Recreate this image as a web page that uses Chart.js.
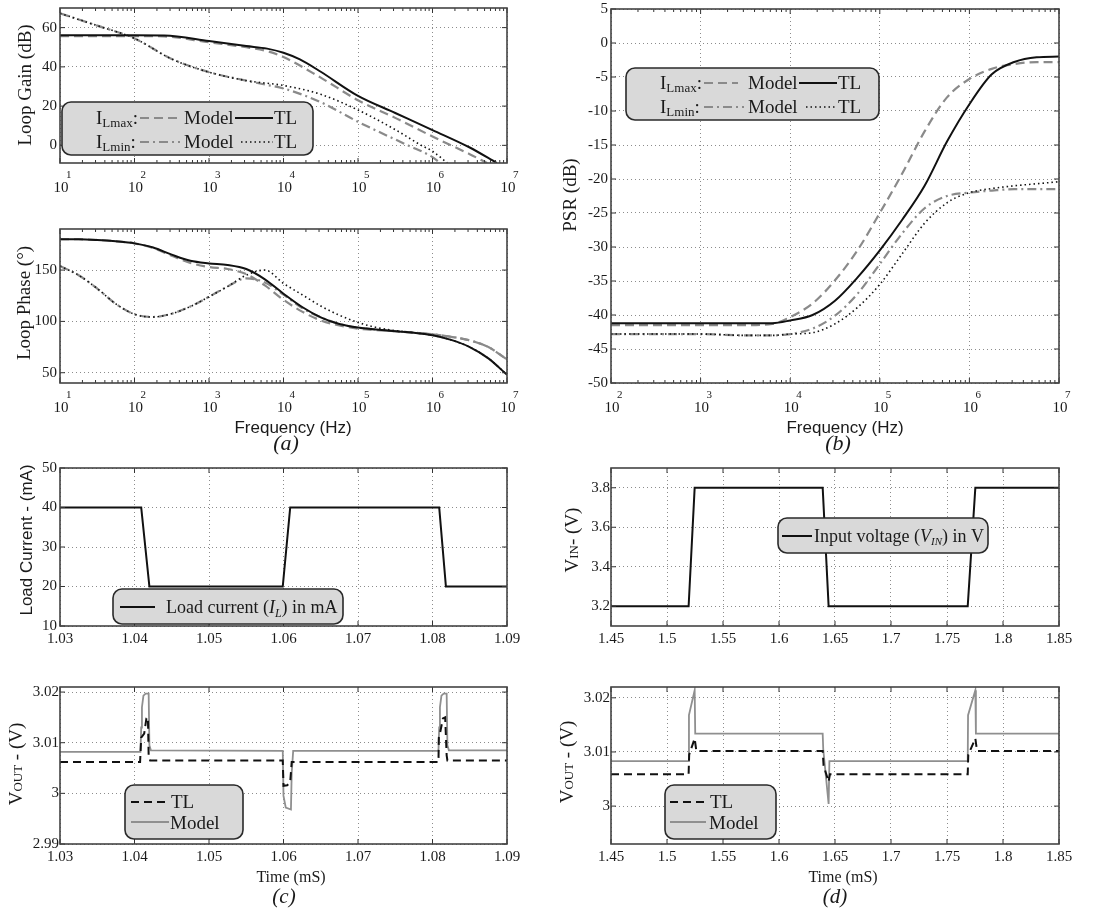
<!DOCTYPE html>
<html lang="en">
<head>
<meta charset="utf-8">
<title>Loop gain, PSR and load / line transients</title>
<script src="https://cdn.jsdelivr.net/npm/chart.js@4.4.1/dist/chart.umd.min.js"></script>
<style>
  body { margin: 0; background: #fff; }
  #page { position: relative; width: 1118px; height: 909px; }
  #page canvas { position: absolute; left: 0; top: 0; }
</style>
</head>
<body>
<div id="page">
  <canvas id="gainChart" width="1118" height="909"></canvas>
  <canvas id="phaseChart" width="1118" height="909"></canvas>
  <canvas id="psrChart" width="1118" height="909"></canvas>
  <canvas id="loadChart" width="1118" height="909"></canvas>
  <canvas id="voutCChart" width="1118" height="909"></canvas>
  <canvas id="vinChart" width="1118" height="909"></canvas>
  <canvas id="voutDChart" width="1118" height="909"></canvas>
</div>
<script>
// ---- (a) loop gain (dB) ----
const gainFreqMax   = [10, 31.6, 100, 251, 1000, 3162, 6026, 10000, 16600, 31623, 100000, 316228, 1000000, 3162278, 7300000];
const gainTLMax     = [56.1, 56.1, 56.1, 56, 53.2, 50.6, 49.3, 47.2, 43.8, 37.5, 25.2, 16.5, 7.8, -1.1, -9];
const gainFreqMaxM  = [10, 31.6, 100, 251, 1000, 3162, 6026, 10000, 31623, 100000, 316228, 1000000, 1778279, 3162278, 5400000];
const gainModelMax  = [55.7, 55.7, 55.7, 55.5, 52.5, 50, 48, 45, 34.5, 23, 14, 4.5, 0, -4.5, -9];
const gainFreqMinM  = [10, 31.6, 100, 316, 1000, 3162, 5623, 10000, 31623, 100000, 316228, 467735, 1000000, 1258925];
const gainModelMin  = [67.3, 61, 54.5, 44, 37.3, 33, 31, 29, 22, 12, 3, 0, -6, -9];
const gainFreqMinT  = [10, 31.6, 100, 316, 1000, 3162, 10000, 31623, 100000, 316228, 707946, 1000000, 1584893];
const gainTLMin     = [67.3, 61, 54.5, 44, 37.3, 33, 30.5, 26, 18, 8, 0, -3, -9];

// ---- (a) loop phase (deg) ----
const phaseFreq     = [10, 17.8, 31.6, 56.2, 100, 178, 316, 562, 1000, 1778, 3162, 5623, 10000, 17783, 31623, 56234, 100000, 177828, 316228, 562341, 1000000, 1778279, 3162278, 5623413, 10000000];
const phaseTLMax    = [180, 180, 179.3, 178, 176, 172, 165, 159, 156.5, 155, 151, 141, 127, 114, 104, 97.5, 94, 92, 90.5, 89, 86.5, 82, 75, 64, 48];
const phaseModelMax = [180, 180, 179.3, 178, 176, 171.5, 164, 157, 153, 151, 146, 135, 121, 109.5, 101, 96, 93, 91.5, 90.5, 89, 87.5, 85, 81.5, 75, 63];
const phaseModelMin = [154, 145, 132, 117, 107, 104.3, 107.5, 114.5, 124, 134, 142, 138, 126, 113, 104, 97.5, 94, 92, 90.5, 89, 87.5, 85, 81.5, 75, 63];
const phaseTLMin    = [154, 145, 132, 117, 107, 104.3, 107.5, 114.5, 124, 134, 145, 150, 137, 126, 115, 106, 99, 94, 91, 89, 86.5, 82, 75, 64, 48];

// ---- (b) PSR (dB) ----
const psrFreq       = [100, 1000, 3162, 6310, 10000, 17783, 31623, 56234, 100000, 177828, 316228, 562341, 1000000, 1778279, 3162278, 5623413, 10000000];
const psrTLMax      = [-41.2, -41.2, -41.2, -41.2, -40.8, -40, -37.9, -34.5, -30.5, -26, -21, -14.5, -9, -4.6, -2.8, -2.1, -2];
const psrModelMax   = [-41.5, -41.5, -41.5, -41.3, -40.3, -38.3, -34.9, -30.5, -25, -19.2, -13, -8, -5.3, -3.8, -3.1, -2.8, -2.8];
const psrModelMin   = [-42.8, -42.8, -43, -43, -42.8, -42, -40.1, -36.9, -32.5, -28, -24.3, -22.5, -22, -21.7, -21.5, -21.5, -21.5];
const psrTLMin      = [-42.8, -42.8, -43, -43, -42.8, -42.6, -41.3, -38.9, -35.5, -31, -26.5, -23.5, -22, -21.4, -21, -20.7, -20.4];

// ---- (c) load transient ----
const loadTime  = [1.03, 1.0409, 1.0420, 1.0599, 1.0609, 1.0809, 1.0818, 1.09];
const loadCurr  = [40, 40, 20, 20, 40, 40, 20, 20];
const voutCTimeTL  = [1.03, 1.04075, 1.0409, 1.0413, 1.0416, 1.0418, 1.0419, 1.0421, 1.0599, 1.0600, 1.0605, 1.0609, 1.0611, 1.0808, 1.08085, 1.0810, 1.0814, 1.0817, 1.0819, 1.0820, 1.0822, 1.09];
const voutCTL      = [3.0062, 3.0062, 3.011, 3.0118, 3.0148, 3.015, 3.0075, 3.0065, 3.0065, 3.0015, 3.0016, 3.0022, 3.0062, 3.0062, 3.011, 3.0118, 3.0148, 3.015, 3.0075, 3.0065, 3.0065, 3.0065];
const voutCTimeMod = [1.03, 1.0408, 1.0409, 1.0410, 1.0412, 1.0415, 1.0419, 1.0420, 1.0422, 1.0599, 1.0600, 1.0603, 1.0610, 1.0611, 1.0613, 1.0808, 1.0809, 1.0810, 1.0812, 1.0815, 1.0819, 1.0820, 1.0822, 1.09];
const voutCModel   = [3.0082, 3.0082, 3.013, 3.017, 3.0193, 3.0197, 3.0197, 3.0095, 3.0085, 3.0084, 2.9995, 2.9972, 2.9968, 3.004, 3.0084, 3.0084, 3.013, 3.017, 3.0193, 3.0197, 3.0197, 3.0095, 3.0085, 3.0085];

// ---- (d) line transient ----
const vinTime   = [1.45, 1.5193, 1.5247, 1.639, 1.6443, 1.7685, 1.7753, 1.85];
const vinVolt   = [3.2, 3.2, 3.8, 3.8, 3.2, 3.2, 3.8, 3.8];
const voutDTimeTL  = [1.45, 1.5193, 1.5198, 1.5247, 1.5262, 1.639, 1.6398, 1.6443, 1.6455, 1.7685, 1.769, 1.7753, 1.7768, 1.85];
const voutDTL      = [3.0059, 3.0059, 3.0095, 3.0125, 3.0102, 3.0102, 3.0075, 3.0045, 3.0059, 3.0059, 3.0095, 3.0125, 3.0102, 3.0102];
const voutDTimeMod = [1.45, 1.5193, 1.5196, 1.5247, 1.5252, 1.639, 1.6395, 1.6443, 1.6450, 1.7685, 1.7688, 1.7753, 1.7758, 1.85];
const voutDModel   = [3.0083, 3.0083, 3.0168, 3.0214, 3.0134, 3.0134, 3.0105, 3.0004, 3.0083, 3.0083, 3.0168, 3.0214, 3.0134, 3.0134];

// tick values
const decadesA   = [10, 100, 1000, 10000, 100000, 1000000, 10000000];
const decadesB   = [100, 1000, 10000, 100000, 1000000, 10000000];
const gainTicks  = [0, 20, 40, 60];
const phaseTicks = [50, 100, 150];
const psrTicks   = [-50, -45, -40, -35, -30, -25, -20, -15, -10, -5, 0, 5];
const timeTicksC = [1.03, 1.04, 1.05, 1.06, 1.07, 1.08, 1.09];
const timeTicksD = [1.45, 1.5, 1.55, 1.6, 1.65, 1.7, 1.75, 1.8, 1.85];
const loadTicks  = [10, 20, 30, 40, 50];
const voutCTicks = [2.99, 3, 3.01, 3.02];
const vinTicks   = [3.2, 3.4, 3.6, 3.8];
const voutDTicks = [3, 3.01, 3.02];

const SERIF = '"Liberation Serif", "Times New Roman", serif';
const SANS = '"Liberation Sans", Arial, sans-serif';
const W = 1118, H = 909;
const Y_BOX = 55, X_BOX = 30;   // room kept for tick labels
const TICK_FONT = 15;

function fnt(size, style, fam) {
  return (style ? style + ' ' : '') + size + 'px ' + (fam || SERIF);
}

const styles = {
  modelDash:    { color: '#8a8a8a', width: 2.2, dash: [9, 5] },
  tlSolid:      { color: '#111', width: 2, dash: [] },
  modelDashDot: { color: '#8a8a8a', width: 2.2, dash: [9, 4, 2, 4] },
  tlDot:        { color: '#111', width: 1.6, dash: [1.5, 3] },
  tlDash:       { color: '#111', width: 2, dash: [8, 5] },
  modelSolid:   { color: '#8f8f8f', width: 1.8, dash: [] },
  plain:        { color: '#111', width: 2, dash: [] }
};

function ds(label, xs, ys, st, smooth, order) {
  return {
    label: label,
    data: xs.map((x, i) => ({ x: x, y: ys[i] })),
    borderColor: st.color,
    borderWidth: st.width,
    borderDash: st.dash,
    pointRadius: 0,
    fill: false,
    tension: smooth ? 0.4 : 0,
    cubicInterpolationMode: smooth ? 'monotone' : 'default',
    order: order
  };
}

function richWidth(ctx, runs) {
  let w = 0;
  runs.forEach(r => { ctx.font = r.font; w += ctx.measureText(r.t).width; });
  return w;
}
function drawRich(ctx, runs, x, y, align) {
  let cx = align === 'center' ? x - richWidth(ctx, runs) / 2 : x;
  ctx.textAlign = 'left';
  ctx.textBaseline = 'alphabetic';
  runs.forEach(r => {
    ctx.font = r.font;
    ctx.fillText(r.t, cx, y + (r.dy || 0));
    cx += ctx.measureText(r.t).width;
  });
}
function sample(ctx, st, x0, x1, y) {
  ctx.save();
  ctx.strokeStyle = st.color; ctx.lineWidth = st.width; ctx.setLineDash(st.dash);
  ctx.beginPath(); ctx.moveTo(x0, y); ctx.lineTo(x1, y); ctx.stroke();
  ctx.restore();
}
function roundBox(ctx, b, r) {
  const [x0, y0, x1, y1] = b;
  ctx.beginPath();
  ctx.moveTo(x0 + r, y0);
  ctx.arcTo(x1, y0, x1, y1, r);
  ctx.arcTo(x1, y1, x0, y1, r);
  ctx.arcTo(x0, y1, x0, y0, r);
  ctx.arcTo(x0, y0, x1, y0, r);
  ctx.closePath();
  ctx.fillStyle = '#d9d9d9'; ctx.fill();
  ctx.setLineDash([]); ctx.lineWidth = 1.6; ctx.strokeStyle = '#2a2a2a'; ctx.stroke();
}

// frame, inward ticks, log labels, titles and legend boxes
const decor = {
  id: 'decor',
  afterDraw(chart, args, o) {
    const ctx = chart.ctx, a = chart.chartArea;
    const xs = chart.scales.x, ys = chart.scales.y;
    ctx.save();
    ctx.setLineDash([]);
    ctx.strokeStyle = '#333'; ctx.lineWidth = 1;
    ctx.beginPath();
    xs.ticks.forEach(t => {
      const p = xs.getPixelForValue(t.value);
      ctx.moveTo(p, a.bottom); ctx.lineTo(p, a.bottom - 5);
      ctx.moveTo(p, a.top); ctx.lineTo(p, a.top + 5);
    });
    ys.ticks.forEach(t => {
      const p = ys.getPixelForValue(t.value);
      ctx.moveTo(a.left, p); ctx.lineTo(a.left + 5, p);
      ctx.moveTo(a.right, p); ctx.lineTo(a.right - 5, p);
    });
    if (xs.type === 'logarithmic') {
      for (let d = xs.min; d < xs.max; d *= 10) {
        for (let k = 2; k <= 9; k++) {
          const p = xs.getPixelForValue(k * d);
          ctx.moveTo(p, a.bottom); ctx.lineTo(p, a.bottom - 3);
          ctx.moveTo(p, a.top); ctx.lineTo(p, a.top + 3);
        }
      }
    }
    ctx.stroke();
    ctx.lineWidth = 1.6; ctx.strokeStyle = '#444';
    ctx.strokeRect(a.left, a.top, a.width, a.height);

    ctx.fillStyle = '#1a1a1a';
    if (xs.type === 'logarithmic') {
      xs.ticks.forEach(t => {
        const p = xs.getPixelForValue(t.value);
        const e = Math.round(Math.log10(t.value));
        ctx.font = fnt(TICK_FONT); ctx.textAlign = 'center'; ctx.textBaseline = 'alphabetic';
        ctx.fillText('10', p + 1, a.bottom + 29);
        ctx.font = fnt(11); ctx.textAlign = 'left';
        ctx.fillText(String(e), p + 6, a.bottom + 15);
      });
    }

    (o.titles || []).forEach(tt => {
      const size = tt.size || 19;
      ctx.save();
      ctx.translate(tt.x, tt.y);
      if (tt.rot) ctx.rotate(-Math.PI / 2);
      ctx.fillStyle = '#1a1a1a';
      drawRich(ctx, tt.runs, 0, size * 0.33, 'center');
      ctx.restore();
    });

    (o.legends || []).forEach(lg => {
      roundBox(ctx, lg.box, 9);
      lg.items.forEach(it => {
        if (it.line) sample(ctx, styles[it.line], it.x0, it.x1, it.y);
        else { ctx.fillStyle = '#1a1a1a'; drawRich(ctx, it.runs, it.x, it.y, 'left'); }
      });
    });
    ctx.restore();
  }
};
Chart.register(decor);

function xAxis(type, min, max, ticks, showLabels) {
  return {
    type: type, position: 'bottom', min: min, max: max, bounds: 'data',
    afterBuildTicks: s => { s.ticks = ticks.map(v => ({ value: v })); },
    afterFit: s => { s.height = X_BOX; s.paddingLeft = 0; s.paddingRight = 0; s.paddingTop = 0; s.paddingBottom = 0; },
    ticks: { display: showLabels, padding: 4, color: '#1a1a1a', font: { family: SERIF, size: TICK_FONT },
      callback: v => String(v), maxRotation: 0, autoSkip: false },
    grid: { color: '#8c8c8c', lineWidth: 1, drawTicks: false },
    border: { display: false, dash: [1, 3] }
  };
}
function yAxis(min, max, ticks, pad) {
  return {
    type: 'linear', position: 'left', min: min, max: max, bounds: 'data',
    afterBuildTicks: s => { s.ticks = ticks.map(v => ({ value: v })); },
    afterFit: s => { s.width = Y_BOX; s.paddingLeft = 0; s.paddingRight = 0; s.paddingTop = 0; s.paddingBottom = 0; },
    ticks: { padding: pad, color: '#1a1a1a', font: { family: SERIF, size: TICK_FONT },
      callback: v => String(v), autoSkip: false },
    grid: { color: '#8c8c8c', lineWidth: 1, drawTicks: false },
    border: { display: false, dash: [1, 3] }
  };
}
function makeChart(id, rect, datasets, xs, ys, deco) {
  return new Chart(document.getElementById(id), {
    type: 'line',
    data: { datasets: datasets },
    options: {
      responsive: false, animation: false, events: [],
      layout: { padding: { left: rect[0] - Y_BOX, top: rect[1], right: W - rect[2], bottom: H - rect[3] - X_BOX } },
      scales: { x: xs, y: ys },
      plugins: { legend: { display: false }, tooltip: { enabled: false }, decor: deco }
    }
  });
}

const big = fnt(19), sub = fnt(13), mid = fnt(18), it18 = fnt(18, 'italic'), itSub = fnt(12, 'italic');
function rowIL(which, x, y) {
  return { runs: [{ t: 'I', font: big }, { t: which, font: sub, dy: 3 }, { t: ':', font: big }], x: x, y: y };
}

// (a) loop gain
makeChart('gainChart', [60, 8, 507, 163], [
  ds('ILmax TL', gainFreqMax, gainTLMax, styles.tlSolid, true, 0),
  ds('ILmin TL', gainFreqMinT, gainTLMin, styles.tlDot, true, 1),
  ds('ILmax Model', gainFreqMaxM, gainModelMax, styles.modelDash, true, 2),
  ds('ILmin Model', gainFreqMinM, gainModelMin, styles.modelDashDot, true, 3)
], xAxis('logarithmic', 10, 1e7, decadesA, false), yAxis(-9, 70, gainTicks, 3), {
  titles: [{ runs: [{ t: 'Loop Gain (dB)', font: big }], x: 25, y: 85, rot: true }],
  legends: [{ box: [62, 102, 313, 155], items: [
    rowIL('Lmax', 96, 124),
    { line: 'modelDash', x0: 140, x1: 180, y: 118 },
    { runs: [{ t: 'Model', font: big }], x: 184, y: 124 },
    { line: 'tlSolid', x0: 235, x1: 273, y: 118 },
    { runs: [{ t: 'TL', font: big }], x: 274, y: 124 },
    rowIL('Lmin', 96, 148),
    { line: 'modelDashDot', x0: 140, x1: 180, y: 142 },
    { runs: [{ t: 'Model', font: big }], x: 184, y: 148 },
    { line: 'tlDot', x0: 241, x1: 273, y: 142 },
    { runs: [{ t: 'TL', font: big }], x: 274, y: 148 }
  ] }]
});

// (a) loop phase
makeChart('phaseChart', [60, 229, 507, 383], [
  ds('ILmax TL', phaseFreq, phaseTLMax, styles.tlSolid, true, 0),
  ds('ILmin TL', phaseFreq, phaseTLMin, styles.tlDot, true, 1),
  ds('ILmax Model', phaseFreq, phaseModelMax, styles.modelDash, true, 2),
  ds('ILmin Model', phaseFreq, phaseModelMin, styles.modelDashDot, true, 3)
], xAxis('logarithmic', 10, 1e7, decadesA, false), yAxis(40, 190, phaseTicks, 3), {
  titles: [
    { runs: [{ t: 'Loop Phase (\u00b0)', font: big }], x: 24, y: 303, rot: true },
    { runs: [{ t: 'Frequency (Hz)', font: fnt(17, '', SANS) }], x: 293, y: 427 },
    { runs: [{ t: '(a)', font: fnt(22, 'italic') }], x: 286, y: 443, size: 22 }
  ]
});

// (b) PSR
makeChart('psrChart', [611, 9, 1059, 383], [
  ds('ILmax TL', psrFreq, psrTLMax, styles.tlSolid, true, 0),
  ds('ILmin TL', psrFreq, psrTLMin, styles.tlDot, true, 1),
  ds('ILmax Model', psrFreq, psrModelMax, styles.modelDash, true, 2),
  ds('ILmin Model', psrFreq, psrModelMin, styles.modelDashDot, true, 3)
], xAxis('logarithmic', 100, 1e7, decadesB, false), yAxis(-50, 5, psrTicks, 3), {
  titles: [
    { runs: [{ t: 'PSR (dB)', font: big }], x: 570, y: 195, rot: true },
    { runs: [{ t: 'Frequency (Hz)', font: fnt(17, '', SANS) }], x: 845, y: 427 },
    { runs: [{ t: '(b)', font: fnt(22, 'italic') }], x: 838, y: 443, size: 22 }
  ],
  legends: [{ box: [626, 68, 879, 120], items: [
    rowIL('Lmax', 660, 89),
    { line: 'modelDash', x0: 704, x1: 738, y: 83 },
    { runs: [{ t: 'Model', font: big }], x: 748, y: 89 },
    { line: 'tlSolid', x0: 799, x1: 837, y: 83 },
    { runs: [{ t: 'TL', font: big }], x: 838, y: 89 },
    rowIL('Lmin', 660, 113),
    { line: 'modelDashDot', x0: 704, x1: 744, y: 107 },
    { runs: [{ t: 'Model', font: big }], x: 748, y: 113 },
    { line: 'tlDot', x0: 806, x1: 837, y: 107 },
    { runs: [{ t: 'TL', font: big }], x: 838, y: 113 }
  ] }]
});

// (c) load current
makeChart('loadChart', [60, 468, 507, 626], [
  ds('Load current', loadTime, loadCurr, styles.plain, false, 0)
], xAxis('linear', 1.03, 1.09, timeTicksC, true), yAxis(10, 50, loadTicks, 3), {
  titles: [{ runs: [{ t: 'Load Current - (mA)', font: fnt(17, '', SANS) }], x: 26, y: 540, rot: true, size: 17 }],
  legends: [{ box: [113, 589, 343, 624], items: [
    { line: 'plain', x0: 120, x1: 155, y: 607 },
    { runs: [{ t: 'Load current (', font: mid }, { t: 'I', font: it18 }, { t: 'L', font: itSub, dy: 4 }, { t: ') in mA', font: mid }], x: 166, y: 613 }
  ] }]
});

// (c) output voltage
makeChart('voutCChart', [60, 687, 507, 844], [
  ds('TL', voutCTimeTL, voutCTL, styles.tlDash, false, 0),
  ds('Model', voutCTimeMod, voutCModel, styles.modelSolid, false, 1)
], xAxis('linear', 1.03, 1.09, timeTicksC, true), yAxis(2.99, 3.021, voutCTicks, 1), {
  titles: [
    { runs: [{ t: 'V', font: big }, { t: 'OUT', font: sub }, { t: ' - (V)', font: big }], x: 16, y: 764, rot: true },
    { runs: [{ t: 'Time (mS)', font: fnt(16) }], x: 291, y: 877, size: 16 },
    { runs: [{ t: '(c)', font: fnt(21, 'italic') }], x: 284, y: 896, size: 21 }
  ],
  legends: [{ box: [125, 785, 243, 839], items: [
    { line: 'tlDash', x0: 131, x1: 165, y: 802 },
    { runs: [{ t: 'TL', font: big }], x: 171, y: 808 },
    { line: 'modelSolid', x0: 131, x1: 169, y: 822 },
    { runs: [{ t: 'Model', font: big }], x: 170, y: 829 }
  ] }]
});

// (d) input voltage
makeChart('vinChart', [611, 468, 1059, 626], [
  ds('Input voltage', vinTime, vinVolt, styles.plain, false, 0)
], xAxis('linear', 1.45, 1.85, timeTicksD, true), yAxis(3.1, 3.9, vinTicks, 1), {
  titles: [{ runs: [{ t: 'V', font: big }, { t: 'IN', font: sub }, { t: '- (V)', font: big }], x: 572, y: 540, rot: true }],
  legends: [{ box: [778, 518, 988, 553], items: [
    { line: 'plain', x0: 782, x1: 812, y: 536 },
    { runs: [{ t: 'Input voltage (', font: mid }, { t: 'V', font: it18 }, { t: 'IN', font: fnt(11, 'italic'), dy: 3 }, { t: ') in V', font: mid }], x: 814, y: 542 }
  ] }]
});

// (d) output voltage
makeChart('voutDChart', [611, 687, 1059, 844], [
  ds('TL', voutDTimeTL, voutDTL, styles.tlDash, false, 0),
  ds('Model', voutDTimeMod, voutDModel, styles.modelSolid, false, 1)
], xAxis('linear', 1.45, 1.85, timeTicksD, true), yAxis(2.993, 3.022, voutDTicks, 1), {
  titles: [
    { runs: [{ t: 'V', font: big }, { t: 'OUT', font: sub }, { t: ' - (V)', font: big }], x: 567, y: 762, rot: true },
    { runs: [{ t: 'Time (mS)', font: fnt(16) }], x: 843, y: 877, size: 16 },
    { runs: [{ t: '(d)', font: fnt(21, 'italic') }], x: 835, y: 896, size: 21 }
  ],
  legends: [{ box: [665, 785, 776, 839], items: [
    { line: 'tlDash', x0: 670, x1: 705, y: 802 },
    { runs: [{ t: 'TL', font: big }], x: 710, y: 808 },
    { line: 'modelSolid', x0: 670, x1: 706, y: 822 },
    { runs: [{ t: 'Model', font: big }], x: 709, y: 829 }
  ] }]
});
</script>
</body>
</html>
